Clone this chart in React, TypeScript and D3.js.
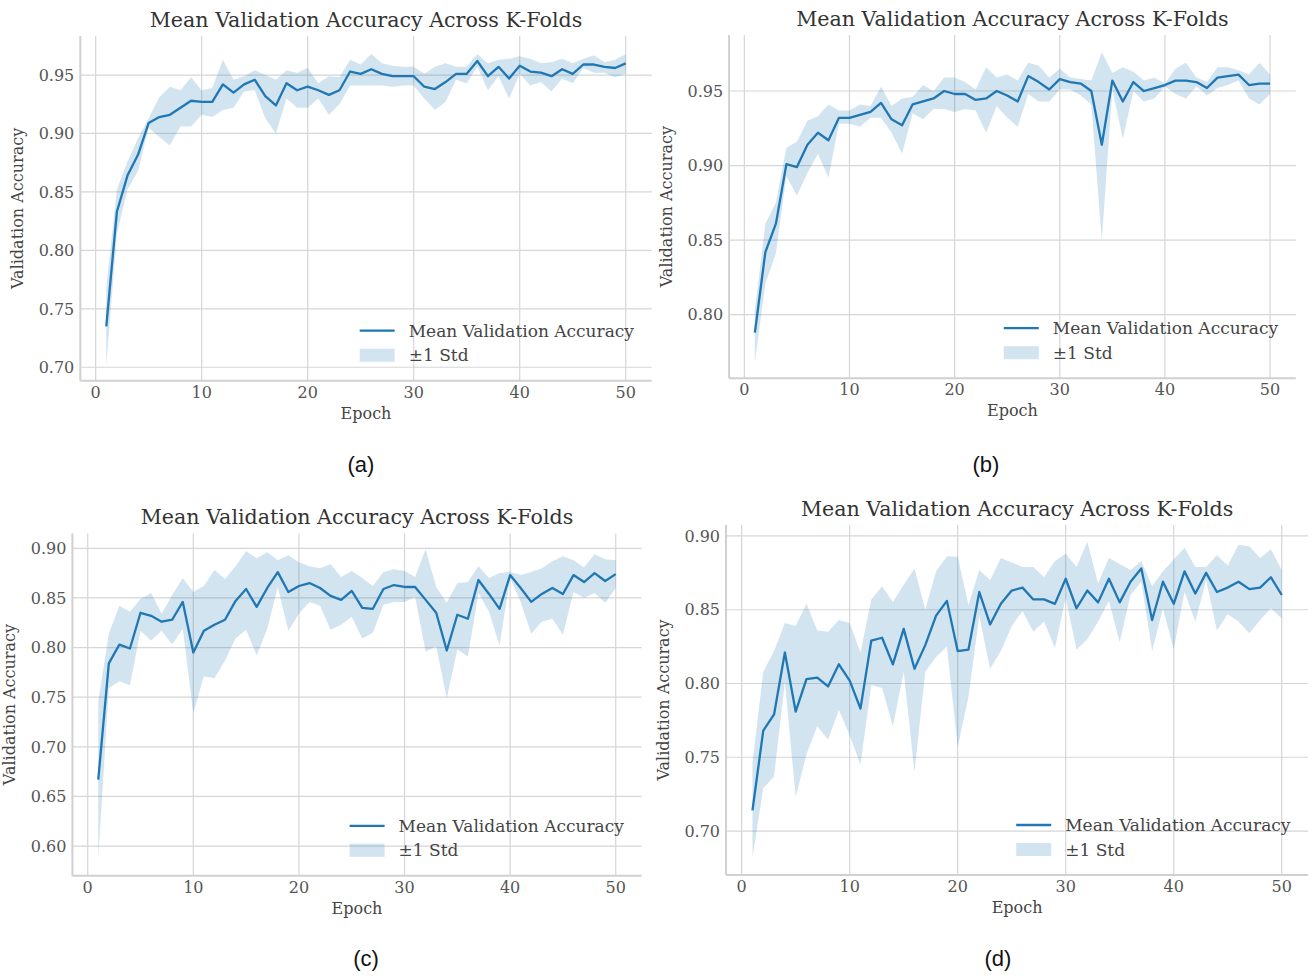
import React from 'react';
import * as d3 from 'd3';

const epochs = d3.range(1, 51);
const xTicks = [0, 10, 20, 30, 40, 50];

// panel (a)
const meanA = [0.735, 0.833, 0.864, 0.882, 0.909, 0.914, 0.916, 0.922, 0.928, 0.927, 0.927, 0.942, 0.935, 0.942, 0.946, 0.932, 0.924, 0.943, 0.937, 0.940, 0.937, 0.933, 0.937, 0.953, 0.951, 0.955, 0.951, 0.949, 0.949, 0.949, 0.940, 0.938, 0.944, 0.951, 0.951, 0.962, 0.949, 0.957, 0.947, 0.958, 0.953, 0.952, 0.949, 0.955, 0.951, 0.959, 0.959, 0.957, 0.956, 0.960];
const upperA = [0.768, 0.852, 0.876, 0.896, 0.913, 0.931, 0.940, 0.937, 0.948, 0.937, 0.939, 0.963, 0.946, 0.949, 0.954, 0.950, 0.946, 0.954, 0.952, 0.956, 0.943, 0.949, 0.948, 0.963, 0.959, 0.968, 0.960, 0.958, 0.957, 0.957, 0.951, 0.957, 0.960, 0.957, 0.957, 0.968, 0.960, 0.963, 0.964, 0.966, 0.964, 0.960, 0.961, 0.964, 0.960, 0.964, 0.967, 0.961, 0.963, 0.968];
const lowerA = [0.702, 0.814, 0.852, 0.868, 0.905, 0.897, 0.890, 0.906, 0.906, 0.916, 0.914, 0.920, 0.922, 0.936, 0.937, 0.913, 0.900, 0.930, 0.922, 0.922, 0.930, 0.916, 0.925, 0.941, 0.941, 0.941, 0.941, 0.940, 0.941, 0.941, 0.930, 0.920, 0.927, 0.946, 0.943, 0.957, 0.937, 0.949, 0.930, 0.951, 0.941, 0.944, 0.936, 0.947, 0.943, 0.956, 0.952, 0.952, 0.948, 0.951];
const yTicksA = [0.70, 0.75, 0.80, 0.85, 0.90, 0.95];

// panel (b)
const meanB = [0.788, 0.842, 0.861, 0.901, 0.899, 0.914, 0.922, 0.917, 0.932, 0.932, 0.934, 0.936, 0.942, 0.931, 0.927, 0.941, 0.943, 0.945, 0.950, 0.948, 0.948, 0.944, 0.945, 0.950, 0.947, 0.943, 0.960, 0.956, 0.951, 0.958, 0.956, 0.955, 0.950, 0.914, 0.957, 0.943, 0.956, 0.950, 0.952, 0.954, 0.957, 0.957, 0.956, 0.952, 0.959, 0.960, 0.961, 0.954, 0.955, 0.955];
const upperB = [0.803, 0.861, 0.875, 0.912, 0.916, 0.930, 0.933, 0.941, 0.937, 0.937, 0.941, 0.940, 0.953, 0.940, 0.945, 0.946, 0.954, 0.950, 0.959, 0.959, 0.956, 0.951, 0.966, 0.959, 0.961, 0.957, 0.969, 0.967, 0.959, 0.965, 0.959, 0.958, 0.957, 0.976, 0.962, 0.966, 0.963, 0.957, 0.959, 0.955, 0.965, 0.969, 0.959, 0.956, 0.966, 0.966, 0.964, 0.961, 0.969, 0.961];
const lowerB = [0.768, 0.821, 0.841, 0.893, 0.880, 0.895, 0.908, 0.892, 0.928, 0.928, 0.926, 0.932, 0.932, 0.922, 0.908, 0.935, 0.931, 0.938, 0.938, 0.936, 0.938, 0.937, 0.922, 0.940, 0.932, 0.926, 0.948, 0.943, 0.943, 0.951, 0.951, 0.947, 0.941, 0.850, 0.951, 0.918, 0.950, 0.943, 0.945, 0.953, 0.948, 0.945, 0.953, 0.947, 0.952, 0.954, 0.957, 0.945, 0.941, 0.948];
const yTicksB = [0.80, 0.85, 0.90, 0.95];

// panel (c)
const meanC = [0.667, 0.784, 0.803, 0.799, 0.835, 0.832, 0.826, 0.828, 0.846, 0.795, 0.817, 0.823, 0.828, 0.847, 0.859, 0.841, 0.860, 0.876, 0.856, 0.862, 0.865, 0.860, 0.852, 0.848, 0.857, 0.840, 0.839, 0.859, 0.863, 0.861, 0.861, 0.848, 0.835, 0.797, 0.833, 0.829, 0.868, 0.854, 0.839, 0.873, 0.860, 0.846, 0.854, 0.860, 0.854, 0.873, 0.866, 0.875, 0.867, 0.874];
const upperC = [0.746, 0.814, 0.842, 0.836, 0.849, 0.855, 0.834, 0.853, 0.870, 0.856, 0.862, 0.878, 0.869, 0.882, 0.897, 0.890, 0.896, 0.888, 0.893, 0.886, 0.882, 0.880, 0.884, 0.871, 0.877, 0.870, 0.862, 0.876, 0.879, 0.877, 0.871, 0.899, 0.861, 0.845, 0.865, 0.866, 0.882, 0.870, 0.875, 0.876, 0.873, 0.876, 0.880, 0.887, 0.892, 0.888, 0.881, 0.894, 0.889, 0.888];
const lowerC = [0.588, 0.759, 0.766, 0.762, 0.817, 0.807, 0.817, 0.803, 0.819, 0.734, 0.771, 0.769, 0.787, 0.809, 0.818, 0.792, 0.819, 0.861, 0.817, 0.834, 0.846, 0.842, 0.818, 0.823, 0.831, 0.809, 0.815, 0.843, 0.846, 0.846, 0.851, 0.796, 0.801, 0.749, 0.798, 0.791, 0.855, 0.836, 0.802, 0.870, 0.846, 0.814, 0.826, 0.829, 0.813, 0.856, 0.850, 0.855, 0.845, 0.860];
const yTicksC = [0.60, 0.65, 0.70, 0.75, 0.80, 0.85, 0.90];

// panel (d)
const meanD = [0.714, 0.768, 0.779, 0.821, 0.781, 0.803, 0.804, 0.798, 0.813, 0.802, 0.783, 0.829, 0.831, 0.813, 0.837, 0.810, 0.826, 0.846, 0.856, 0.822, 0.823, 0.862, 0.840, 0.854, 0.863, 0.865, 0.857, 0.857, 0.854, 0.871, 0.851, 0.863, 0.855, 0.871, 0.855, 0.869, 0.878, 0.843, 0.869, 0.854, 0.876, 0.861, 0.875, 0.862, 0.865, 0.869, 0.864, 0.865, 0.872, 0.860];
const upperD = [0.746, 0.808, 0.822, 0.841, 0.839, 0.854, 0.836, 0.835, 0.843, 0.841, 0.821, 0.857, 0.866, 0.855, 0.867, 0.878, 0.850, 0.876, 0.886, 0.886, 0.853, 0.877, 0.870, 0.885, 0.882, 0.879, 0.879, 0.872, 0.883, 0.888, 0.879, 0.896, 0.868, 0.885, 0.881, 0.877, 0.883, 0.866, 0.876, 0.884, 0.892, 0.879, 0.879, 0.887, 0.880, 0.894, 0.893, 0.885, 0.891, 0.877];
const lowerD = [0.682, 0.729, 0.737, 0.801, 0.723, 0.752, 0.771, 0.762, 0.782, 0.765, 0.745, 0.799, 0.797, 0.771, 0.808, 0.740, 0.808, 0.818, 0.825, 0.757, 0.791, 0.846, 0.810, 0.822, 0.839, 0.849, 0.835, 0.842, 0.824, 0.858, 0.823, 0.830, 0.842, 0.856, 0.828, 0.860, 0.869, 0.822, 0.851, 0.823, 0.862, 0.842, 0.870, 0.836, 0.847, 0.842, 0.834, 0.843, 0.851, 0.844];
const yTicksD = [0.70, 0.75, 0.80, 0.85, 0.90];

const TITLE = 'Mean Validation Accuracy Across K-Folds';
const BLUE = '#1f77b4';
const SERIF = '"DejaVu Serif", serif';
const GRID = '#d6d6d6';

type PanelProps = {
  left: number; right: number; top: number; bottom: number;
  yDomain: [number, number];
  mean: number[]; upper: number[]; lower: number[];
  yTicks: number[];
  caption: string; captionX: number; captionY: number;
};

const Panel = ({ left, right, top, bottom, yDomain, mean, upper, lower, yTicks, caption, captionX, captionY }: PanelProps) => {
  const x = d3.scaleLinear().domain([-1.45, 52.45]).range([left, right]);
  const y = d3.scaleLinear().domain(yDomain).range([bottom, top]);

  const line = d3.line<number>().x((_, i) => x(epochs[i])).y(d => y(d));
  const area = d3.area<number>()
    .x((_, i) => x(epochs[i]))
    .y0((_, i) => y(lower[i]))
    .y1((_, i) => y(upper[i]));

  const midX = (left + right) / 2;
  const midY = (top + bottom) / 2;
  const lx = right - 292;

  return (
    <g>
      {xTicks.map(t => (
        <line key={'gx' + t} x1={x(t)} x2={x(t)} y1={top} y2={bottom} stroke={GRID} strokeWidth={1.2} />
      ))}
      {yTicks.map(t => (
        <line key={'gy' + t} x1={left} x2={right} y1={y(t)} y2={y(t)} stroke={GRID} strokeWidth={1.2} />
      ))}
      <line x1={left} x2={left} y1={top} y2={bottom} stroke="#d0d0d0" strokeWidth={2} />
      <line x1={left} x2={right} y1={bottom} y2={bottom} stroke="#d0d0d0" strokeWidth={2} />

      <path d={area(mean) ?? ''} fill={BLUE} fillOpacity={0.2} />
      <path d={line(mean) ?? ''} fill="none" stroke={BLUE} strokeWidth={2.3} strokeLinejoin="round" />

      {xTicks.map(t => (
        <text key={'tx' + t} x={x(t)} y={bottom + 17} textAnchor="middle" fontSize={16} fill="#555" fontFamily={SERIF}>{t}</text>
      ))}
      {yTicks.map(t => (
        <text key={'ty' + t} x={left - 6} y={y(t)} dy="0.36em" textAnchor="end" fontSize={16} fill="#555" fontFamily={SERIF}>{t.toFixed(2)}</text>
      ))}

      <text x={midX} y={top - 9} textAnchor="middle" fontSize={20.6} fill="#333" fontFamily={SERIF}>{TITLE}</text>
      <text x={midX} y={bottom + 38} textAnchor="middle" fontSize={16} fill="#444" fontFamily={SERIF}>Epoch</text>
      <text transform={`translate(${left - 57},${midY}) rotate(-90)`} textAnchor="middle" fontSize={16} fill="#444" fontFamily={SERIF}>Validation Accuracy</text>

      <line x1={lx} x2={lx + 35} y1={bottom - 50} y2={bottom - 50} stroke={BLUE} strokeWidth={2.3} />
      <text x={lx + 49} y={bottom - 50} dy="0.36em" fontSize={17} fill="#444" fontFamily={SERIF}>Mean Validation Accuracy</text>
      <rect x={lx} y={bottom - 32} width={35} height={13} fill={BLUE} fillOpacity={0.2} />
      <text x={lx + 49} y={bottom - 25.5} dy="0.36em" fontSize={17} fill="#444" fontFamily={SERIF}>±1 Std</text>

      <text x={captionX} y={captionY} textAnchor="middle" fontSize={22} fill="#111" fontFamily='"Liberation Sans", Arial, sans-serif'>{caption}</text>
    </g>
  );
};

export default function App() {
  return (
    <svg width={1312} height={976} style={{ position: 'absolute', left: 0, top: 0, background: '#fff' }}>
      <Panel left={80.3} right={651.7} top={36.1} bottom={380.7} yDomain={[0.6885, 0.9833]}
        mean={meanA} upper={upperA} lower={lowerA} yTicks={yTicksA} caption="(a)" captionX={361} captionY={472} />
      <Panel left={729.1} right={1295.8} top={35.1} bottom={378.2} yDomain={[0.7574, 0.9875]}
        mean={meanB} upper={upperB} lower={lowerB} yTicks={yTicksB} caption="(b)" captionX={986} captionY={472} />
      <Panel left={72.4} right={641.6} top={533.4} bottom={875.8} yDomain={[0.570, 0.915]}
        mean={meanC} upper={upperC} lower={lowerC} yTicks={yTicksC} caption="(c)" captionX={366} captionY={966} />
      <Panel left={726} right={1308.2} top={524.9} bottom={875} yDomain={[0.6702, 0.9075]}
        mean={meanD} upper={upperD} lower={lowerD} yTicks={yTicksD} caption="(d)" captionX={998} captionY={966} />
    </svg>
  );
}
